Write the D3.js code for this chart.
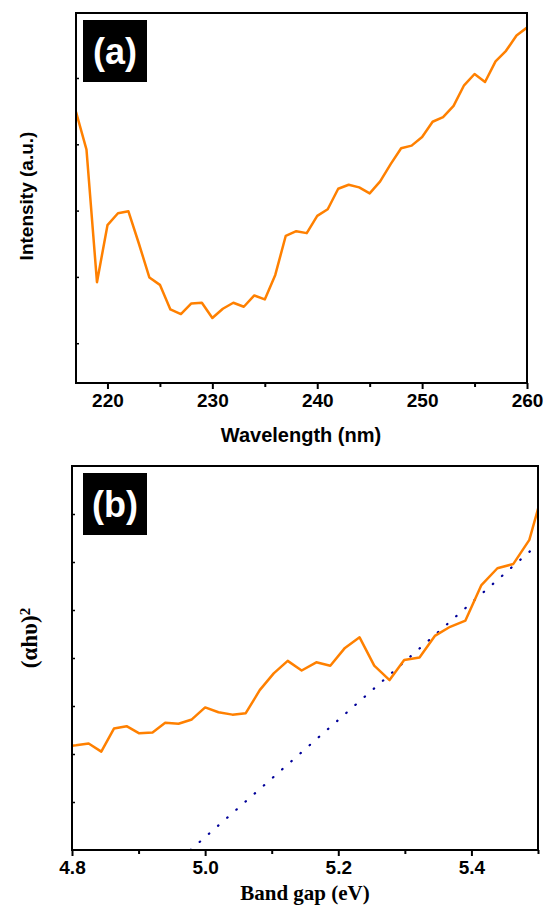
<!DOCTYPE html>
<html>
<head>
<meta charset="utf-8">
<script src="https://cdn.jsdelivr.net/npm/d3@7"></script>
<style>
  body { margin: 0; background: #fff; }
  svg { display: block; }
</style>
</head>
<body>
<div id="chart"></div>
<script>
// panel (a) : intensity vs wavelength
var wavelength = [217, 218, 219, 220, 221, 222, 223, 224, 225, 226, 227, 228, 229, 230,
  231, 232, 233, 234, 235, 236, 237, 238, 239, 240, 241, 242, 243, 244, 245, 246, 247,
  248, 249, 250, 251, 252, 253, 254, 255, 256, 257, 258, 259, 260];
var intensity = [4.09, 3.52, 1.52, 2.38, 2.56, 2.59, 2.10, 1.59, 1.48, 1.11, 1.04, 1.20, 1.21, 0.98,
  1.12, 1.21, 1.15, 1.32, 1.26, 1.63, 2.22, 2.29, 2.26, 2.52, 2.62, 2.93, 2.99, 2.95, 2.86, 3.04, 3.30,
  3.54, 3.58, 3.71, 3.94, 4.01, 4.18, 4.49, 4.66, 4.54, 4.85, 5.01, 5.24, 5.36];
var ticksA = [220, 230, 240, 250, 260];
var minorA = [225, 235, 245, 255];
var yTicksA = [0.6, 1.6, 2.6, 3.6, 4.6];

// panel (b) : (ahv)^2 vs band gap
var bandGap = [4.788, 4.806, 4.825, 4.844, 4.863, 4.882, 4.901, 4.921, 4.940, 4.960, 4.980,
  5.000, 5.020, 5.041, 5.061, 5.082, 5.103, 5.124, 5.145, 5.167, 5.188, 5.210, 5.232, 5.254,
  5.277, 5.299, 5.322, 5.345, 5.368, 5.391, 5.415, 5.439, 5.463, 5.487, 5.511];
var ahv2 = [2.15, 2.18, 2.22, 2.05, 2.53, 2.58, 2.43, 2.45, 2.65, 2.63, 2.72,
  2.97, 2.87, 2.82, 2.85, 3.33, 3.68, 3.94, 3.74, 3.91, 3.84, 4.21, 4.43, 3.84,
  3.54, 3.96, 4.01, 4.46, 4.65, 4.78, 5.52, 5.87, 5.96, 6.46, 7.65];
var fitX = [4.978, 5.5];
var fitY = [0, 6.37];
var ticksB = [4.8, 5.0, 5.2, 5.4];
var minorB = [4.9, 5.1, 5.3, 5.5];
var yTicksB = [1, 2, 3, 4, 5, 6, 7];

var orange = "#ff8000";
var sans = "'Liberation Sans', Arial, sans-serif";
var serif = "'Liberation Serif', 'Times New Roman', serif";

var svg = d3.select("#chart")
  .append("svg")
    .attr("width", 546)
    .attr("height", 907);

var defs = svg.append("defs");

function panel(opt) {
  var x = d3.scaleLinear().domain(opt.xDomain).range([opt.left, opt.right]);
  var y = d3.scaleLinear().domain(opt.yDomain).range([opt.bottom, opt.top]);

  defs.append("clipPath").attr("id", opt.id)
    .append("rect")
      .attr("x", opt.left).attr("y", opt.top)
      .attr("width", opt.right - opt.left).attr("height", opt.bottom - opt.top);

  var g = svg.append("g");

  // bottom axis, major + minor ticks pointing out
  g.append("g")
    .attr("transform", "translate(0," + opt.bottom + ")")
    .call(d3.axisBottom(x).tickValues(opt.ticks).tickSize(6).tickPadding(5)
      .tickFormat(opt.fmt))
    .call(function(a) {
      a.select(".domain").remove();
      a.selectAll("line").attr("stroke-width", 2);
      a.selectAll("text").style("font-family", sans).style("font-weight", "bold")
        .style("font-size", "19px").attr("fill", "#000");
    });
  g.append("g")
    .attr("transform", "translate(0," + opt.bottom + ")")
    .call(d3.axisBottom(x).tickValues(opt.minor).tickSize(4).tickFormat(""))
    .call(function(a) {
      a.select(".domain").remove();
      a.selectAll("line").attr("stroke-width", 2);
    });

  // left axis, small ticks inside, no labels
  g.append("g")
    .attr("transform", "translate(" + opt.left + ",0)")
    .call(d3.axisRight(y).tickValues(opt.yTicks).tickSize(3).tickFormat(""))
    .call(function(a) {
      a.select(".domain").remove();
      a.selectAll("line").attr("stroke-width", 1.5);
    });

  var line = d3.line()
    .x(function(d) { return x(d[0]); })
    .y(function(d) { return y(d[1]); });

  if (opt.fit) {
    g.append("path")
      .datum(opt.fit)
      .attr("clip-path", "url(#" + opt.id + ")")
      .attr("d", line)
      .attr("fill", "none")
      .attr("stroke", "#000099")
      .attr("stroke-width", 2.2)
      .attr("stroke-linecap", "round")
      .attr("stroke-dasharray", "0.6,11.6");
  }

  g.append("path")
    .datum(opt.data)
    .attr("clip-path", "url(#" + opt.id + ")")
    .attr("d", line)
    .attr("fill", "none")
    .attr("stroke", orange)
    .attr("stroke-width", 2.5)
    .attr("stroke-linejoin", "round");

  // frame
  g.append("rect")
    .attr("x", opt.left).attr("y", opt.top)
    .attr("width", opt.right - opt.left).attr("height", opt.bottom - opt.top)
    .attr("fill", "none").attr("stroke", "#000").attr("stroke-width", 2);

  // black tag box
  g.append("rect")
    .attr("x", 83).attr("y", opt.top + 7)
    .attr("width", 64).attr("height", 62)
    .attr("fill", "#000");
  g.append("text")
    .attr("x", 115).attr("y", opt.top + 38)
    .attr("dy", "0.36em")
    .attr("text-anchor", "middle")
    .attr("fill", "#fff")
    .style("font-family", sans).style("font-weight", "bold").style("font-size", "36px")
    .text(opt.tag);

  return g;
}

var gA = panel({
  id: "clipA", left: 76, right: 527, top: 13, bottom: 383,
  xDomain: [217, 260], yDomain: [0, 5.58],
  ticks: ticksA, minor: minorA, yTicks: yTicksA,
  fmt: d3.format("d"),
  data: wavelength.map(function(w, i) { return [w, intensity[i]]; }),
  tag: "(a)"
});

gA.append("text")
  .attr("x", 301).attr("y", 435)
  .attr("dy", "0.35em")
  .attr("text-anchor", "middle")
  .style("font-family", sans).style("font-weight", "bold").style("font-size", "20px")
  .text("Wavelength (nm)");

gA.append("text")
  .attr("transform", "translate(26,196) rotate(-90)")
  .attr("dy", "0.35em")
  .attr("text-anchor", "middle")
  .style("font-family", sans).style("font-weight", "bold").style("font-size", "19px")
  .text("Intensity (a.u.)");

var gB = panel({
  id: "clipB", left: 72, right: 538, top: 466, bottom: 850,
  xDomain: [4.8, 5.5], yDomain: [0, 8],
  ticks: ticksB, minor: minorB, yTicks: yTicksB,
  fmt: d3.format(".1f"),
  data: bandGap.map(function(e, i) { return [e, ahv2[i]]; }),
  fit: fitX.map(function(e, i) { return [e, fitY[i]]; }),
  tag: "(b)"
});

gB.append("text")
  .attr("x", 305).attr("y", 900)
  .attr("text-anchor", "middle")
  .style("font-family", serif).style("font-weight", "bold").style("font-size", "21px")
  .text("Band gap (eV)");

var yl = gB.append("text")
  .attr("transform", "translate(29,638) rotate(-90)")
  .attr("dy", "0.35em")
  .attr("text-anchor", "middle")
  .style("font-family", serif).style("font-weight", "bold").style("font-size", "23px");
yl.append("tspan").text("(\u03b1h\u03c5)");
yl.append("tspan").attr("dy", "-0.45em").style("font-size", "15px").text("2");
</script>
</body>
</html>
